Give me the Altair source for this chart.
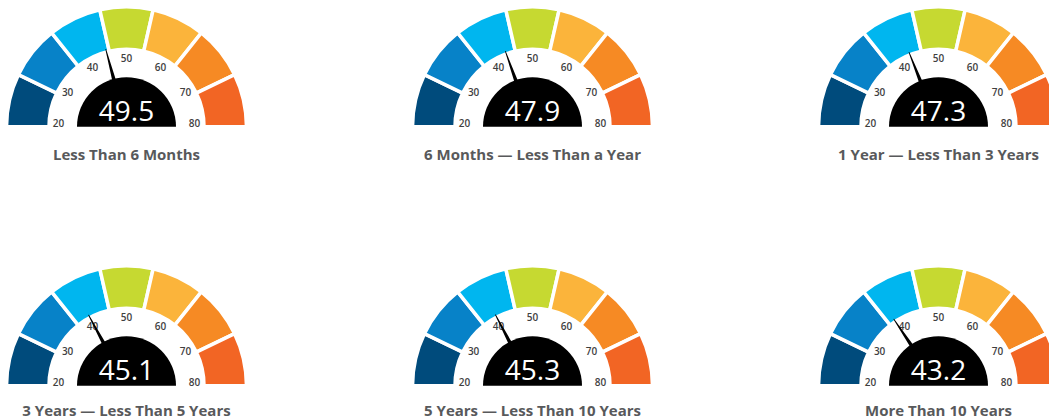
import math
import pandas as pd
import altair as alt

# ---------------- data ----------------
TITLES = [
    "Less Than 6 Months",
    "6 Months \u2014 Less Than a Year",
    "1 Year \u2014 Less Than 3 Years",
    "3 Years \u2014 Less Than 5 Years",
    "5 Years \u2014 Less Than 10 Years",
    "More Than 10 Years",
]
VALUES = [49.5, 47.9, 47.3, 45.1, 45.3, 43.2]
GRID_COL = [0, 1, 2, 0, 1, 2]
GRID_ROW = [0, 0, 0, 1, 1, 1]
TICKS = [20, 30, 40, 50, 60, 70, 80]
N_SEGMENTS = 7

# ---------------- style / layout ----------------
SEG_COLORS = ["#004b7c", "#0782c8", "#00b6ef", "#c6d931", "#fbb43b", "#f68a24", "#f26524"]
CX0, DX = 118.5, 406.0      # gauge centre x (px) for column 0 and column step
CY0, DY = 118.7, 259.0      # gauge baseline y (px) for row 0 and row step
TITLE_DY = [33.0, 30.0]     # title baseline below gauge baseline, per row
R_OUT, R_IN = 120.0, 77.5   # coloured ring
R_HUB = 49.5                # black hub
R_TICK = 68.0               # tick label radius
NEEDLE_AT_TOP = 54.5        # value the needle would show when vertical (as drawn)
DEG_PER_UNIT = 3.0
FONT = "Open Sans"

gauges = pd.DataFrame({
    "gid": range(len(TITLES)),
    "title": TITLES,
    "value": VALUES,
    "col": GRID_COL,
    "row": GRID_ROW,
})
gauges["cx"] = CX0 + DX * gauges["col"]
gauges["cy"] = CY0 + DY * gauges["row"]
gauges["label"] = gauges["value"].map(lambda v: f"{v:.1f}")
gauges["vy"] = gauges["cy"] - 6
gauges["ty"] = gauges["cy"] + gauges["row"].map(lambda r: TITLE_DY[r])

# ring segments
seg_rows = []
for _, g in gauges.iterrows():
    for i in range(N_SEGMENTS):
        seg_rows.append({
            "gid": g.gid, "cx": g.cx, "cy": g.cy, "seg": i,
            "t0": 1.5 * math.pi + i * math.pi / N_SEGMENTS,
            "t1": 1.5 * math.pi + (i + 1) * math.pi / N_SEGMENTS,
        })
segs = pd.DataFrame(seg_rows)

# tick labels
tick_rows = []
for _, g in gauges.iterrows():
    for t in TICKS:
        a = math.radians((t - 50) * DEG_PER_UNIT)
        x = g.cx + R_TICK * math.sin(a)
        y = min(g.cy - R_TICK * math.cos(a), g.cy - 3)
        tick_rows.append({"gid": g.gid, "x": x, "y": y, "tick": str(t)})
ticks = pd.DataFrame(tick_rows)

# needles (tapered trail from hub to ring)
needle_rows = []
for _, g in gauges.iterrows():
    a = math.radians((g.value - NEEDLE_AT_TOP) * DEG_PER_UNIT)
    for order, (r, w) in enumerate([(42, 4.2), (80, 0.8)]):
        needle_rows.append({
            "gid": g.gid, "ord": order, "w": w,
            "x": g.cx + r * math.sin(a), "y": g.cy - r * math.cos(a),
        })
needles = pd.DataFrame(needle_rows)

# ---------------- layers ----------------
X = lambda f: alt.X(f, scale=None, axis=None)
Y = lambda f: alt.Y(f, scale=None, axis=None)

ring = alt.Chart(segs).mark_arc(
    radius=R_OUT, radius2=R_IN, stroke="white", strokeWidth=3.5
).encode(
    x=X("cx:Q"), y=Y("cy:Q"),
    theta=alt.Theta("t0:Q", scale=None), theta2="t1:Q",
    color=alt.Color("seg:O", scale=alt.Scale(domain=list(range(N_SEGMENTS)), range=SEG_COLORS), legend=None),
    detail="gid:N",
)

tick_text = alt.Chart(ticks).mark_text(
    font=FONT, fontSize=10, fontWeight=600, color="#3f3f3f", align="center", baseline="middle"
).encode(x=X("x:Q"), y=Y("y:Q"), text="tick:N")

needle = alt.Chart(needles).mark_trail(color="black").encode(
    x=X("x:Q"), y=Y("y:Q"),
    size=alt.Size("w:Q", scale=None, legend=None),
    detail="gid:N", order="ord:Q",
)

hub = alt.Chart(gauges).mark_arc(
    radius=R_HUB, theta=1.5 * math.pi, theta2=2.5 * math.pi, color="black"
).encode(x=X("cx:Q"), y=Y("cy:Q"))

value_text = alt.Chart(gauges).mark_text(
    font=FONT, fontSize=28, color="white", align="center", baseline="alphabetic"
).encode(x=X("cx:Q"), y=Y("vy:Q"), text="label:N")

title_text = alt.Chart(gauges).mark_text(
    font=FONT, fontSize=15, fontWeight="bold", color="#58595b", align="center", baseline="alphabetic"
).encode(x=X("cx:Q"), y=Y("ty:Q"), text="title:N")

chart = alt.layer(ring, tick_text, needle, hub, value_text, title_text).properties(
    width=1041, height=411, padding=0, autosize="none", background="white"
).configure_view(stroke=None)

chart.save("out.html", embed_options={"renderer": "svg", "actions": False})
